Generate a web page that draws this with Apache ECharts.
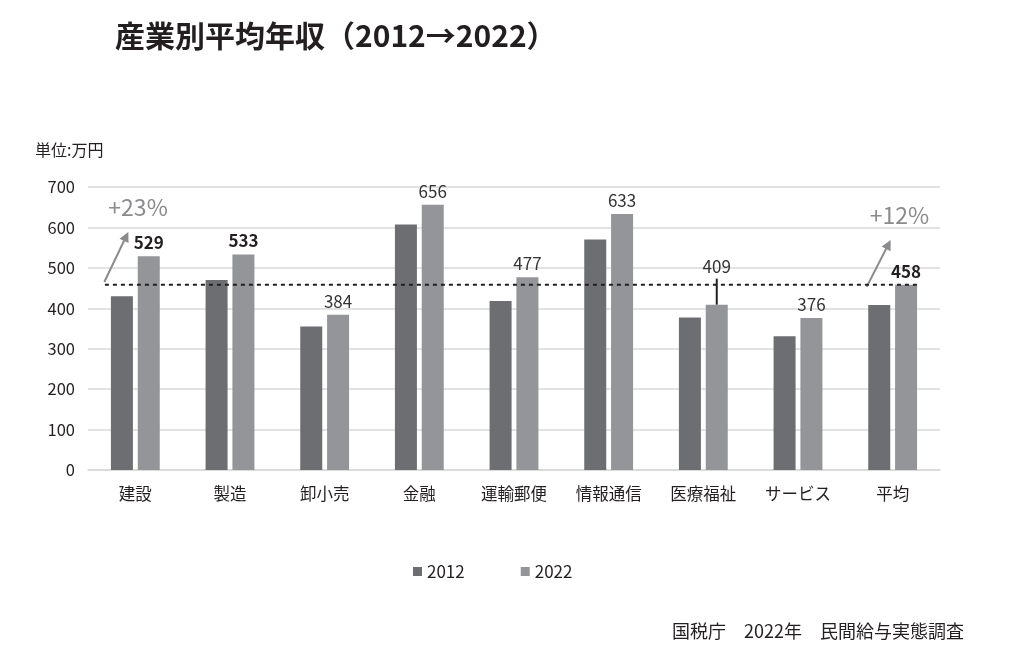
<!doctype html>
<html lang="ja">
<head>
    <meta charset="UTF-8">
    <title>産業別平均年収</title>
    <style>
        html, body{margin:0; padding:0; background:#fff;}
        #chart{width:1024px; height:671px;}
    </style>
</head>
<body>
<div id="chart"></div>
<script src="https://cdn.jsdelivr.net/npm/echarts@6/dist/echarts.min.js"></script>
<script>
    var categories = ['建設', '製造', '卸小売', '金融', '運輸郵便', '情報通信', '医療福祉', 'サービス', '平均'];
    var income2012 = [430, 470, 355, 607, 418, 570, 377, 331, 408];
    var income2022 = [529, 533, 384, 656, 477, 633, 409, 376, 458];
    var boldLabels = ['建設', '製造', '平均'];
    var avgLine = 458;
    var yTicks = [0, 100, 200, 300, 400, 500, 600, 700];

    var font = '"Noto Sans CJK JP", "Noto Sans", sans-serif';

    var data2022 = income2022.map(function (v, i) {
        var item = {value: v};
        if (boldLabels.indexOf(categories[i]) >= 0) {
            item.label = {fontWeight: 'bold', color: '#231f20'};
        }
        if (categories[i] === '医療福祉') {
            item.label = {distance: 30};
        }
        return item;
    });

    var chart = echarts.init(document.getElementById('chart'));
    chart.setOption({
        animation: false,
        textStyle: {fontFamily: font},
        title: {
            text: '産業別平均年収（2012→2022）',
            left: 110, top: 16,
            textStyle: {fontSize: 30, fontWeight: 'bold', color: '#231f20', fontFamily: font}
        },
        legend: {
            data: ['2012', '2022'],
            left: 408, top: 558,
            icon: 'rect', itemWidth: 9, itemHeight: 9, itemGap: 56,
            textStyle: {fontSize: 17, color: '#231f20', fontFamily: font}
        },
        grid: {left: 88, right: 84, top: 187, bottom: 201},
        xAxis: {
            type: 'category',
            data: categories,
            axisLine: {lineStyle: {color: '#d9d9d9', width: 1.5}},
            axisTick: {show: false},
            axisLabel: {fontSize: 16.5, color: '#231f20', margin: 15}
        },
        yAxis: {
            type: 'value',
            min: yTicks[0], max: yTicks[yTicks.length - 1], interval: 100,
            axisLine: {show: false},
            axisTick: {show: false},
            splitLine: {lineStyle: {color: '#d9d9d9', width: 1.5}},
            axisLabel: {fontSize: 16.5, color: '#231f20', margin: 13}
        },
        series: [
            {
                name: '2012', type: 'bar', data: income2012,
                barWidth: 22, barGap: '22%',
                itemStyle: {color: '#6d6e71'}
            },
            {
                name: '2022', type: 'bar', data: data2022,
                barWidth: 22,
                itemStyle: {color: '#939598'},
                label: {show: true, position: 'top', distance: 5, fontSize: 17, color: '#333'}
            }
        ]
    });

    // 注記（矢印・平均線・リーダー線）
    var notes = [
        {cat: '建設', from: 465, to: 589, dx0: -31, dx1: -7, text: '+23%', tdx: -20, tdy: -36},
        {cat: '平均', from: 453, to: 569, dx0: -26, dx1: -2, text: '+12%', tdx: -21, tdy: -36}
    ];
    function px(cat, v) {
        return chart.convertToPixel({gridIndex: 0}, [cat, v]);
    }
    var graphics = [];
    notes.forEach(function (n) {
        var a = px(n.cat, n.from), b = px(n.cat, n.to);
        var x0 = a[0] + n.dx0, y0 = a[1], x1 = b[0] + n.dx1, y1 = b[1];
        var ang = Math.atan2(y1 - y0, x1 - x0);
        graphics.push({
            type: 'line', silent: true, z: 10,
            shape: {x1: x0, y1: y0, x2: x1 - 6 * Math.cos(ang), y2: y1 - 6 * Math.sin(ang)},
            style: {stroke: '#8a8b8d', lineWidth: 2}
        });
        var s = 10, w = 5;
        graphics.push({
            type: 'polygon', silent: true, z: 10,
            shape: {points: [
                [x1, y1],
                [x1 - s * Math.cos(ang) + w * Math.sin(ang), y1 - s * Math.sin(ang) - w * Math.cos(ang)],
                [x1 - s * Math.cos(ang) - w * Math.sin(ang), y1 - s * Math.sin(ang) + w * Math.cos(ang)]
            ]},
            style: {fill: '#8a8b8d'}
        });
        graphics.push({
            type: 'text', silent: true, z: 10,
            x: x1 + n.tdx, y: y1 + n.tdy,
            style: {text: n.text, fontSize: 23, fill: '#8a8b8d', fontFamily: font}
        });
    });

    var s2 = chart.getModel().getSeriesByIndex(1).getData();
    var first = chart.getModel().getSeriesByIndex(0).getData().getItemLayout(0);
    var last = s2.getItemLayout(categories.length - 1);
    var yAvg = chart.convertToPixel({yAxisIndex: 0}, avgLine);
    graphics.push({
        type: 'line', silent: true, z: 10,
        shape: {x1: first.x - 6, y1: yAvg, x2: last.x + last.width + 3, y2: yAvg},
        style: {stroke: '#231f20', lineWidth: 2, lineDash: [4, 4]}
    });

    var medIdx = categories.indexOf('医療福祉');
    var medTop = chart.convertToPixel({yAxisIndex: 0}, income2022[medIdx]);
    var med = s2.getItemLayout(medIdx);
    graphics.push({
        type: 'line', silent: true, z: 10,
        shape: {x1: med.x + med.width / 2, y1: medTop - 26, x2: med.x + med.width / 2, y2: medTop},
        style: {stroke: '#231f20', lineWidth: 2}
    });

    graphics.push({
        type: 'text', silent: true, left: 35, top: 142,
        style: {text: '単位:万円', fontSize: 16, fill: '#231f20', fontFamily: font}
    });
    graphics.push({
        type: 'text', silent: true, left: 672, top: 622,
        style: {text: '国税庁　2022年　民間給与実態調査', fontSize: 18, fill: '#231f20', fontFamily: font}
    });

    chart.setOption({graphic: graphics});
</script>
</body>
</html>
